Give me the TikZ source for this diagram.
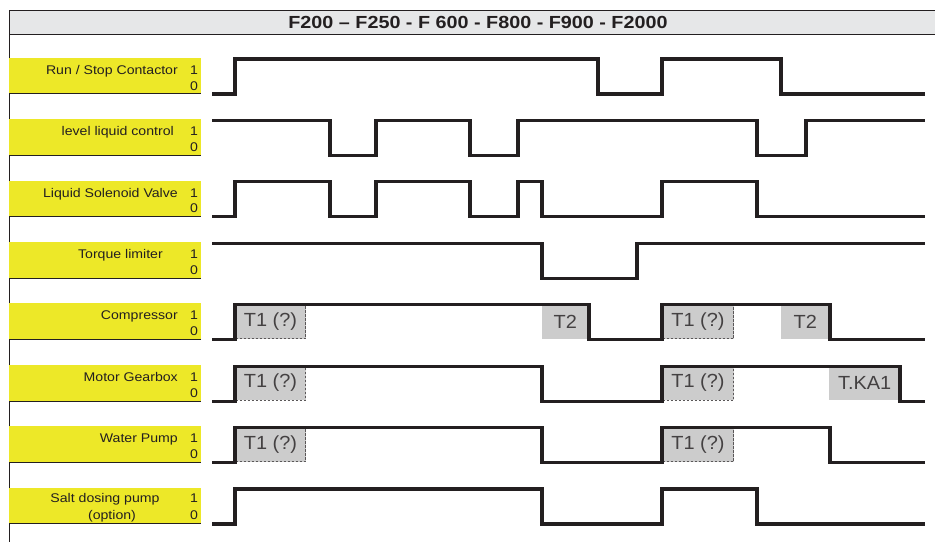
\documentclass[tikz,border=0pt]{standalone}
\usepackage{graphicx}
\usepackage{fontspec}
\setmainfont{Liberation Sans}
\definecolor{ylw}{RGB}{237,232,40}
\definecolor{ink}{RGB}{35,31,32}
\definecolor{tbar}{RGB}{230,231,232}
\definecolor{tboxc}{RGB}{204,204,204}
\newcommand\wtxt[2][1.12]{\scalebox{#1}[1]{#2}}
\begin{document}
\begin{tikzpicture}[x=1pt,y=-1pt,
  sig/.style={draw=ink,line width=3.1pt,line join=miter},
  rule/.style={draw=ink,line width=1pt},
  lbl/.style={fill=ylw,minimum width=192pt,minimum height=36pt,inner sep=0pt,anchor=north west},
  txt/.style={anchor=base east,inner sep=0pt,text=ink,font=\fontsize{12.6}{14}\selectfont},
  dig/.style={anchor=base,inner sep=0pt,text=ink,font=\fontsize{12.6}{14}\selectfont},
  tb/.style={fill=tboxc,inner sep=0pt,anchor=north west,minimum height=35pt,text=ink!85,font=\fontsize{19}{20}\selectfont},
  tbd/.style={tb,draw=ink!75,line width=1pt,dash pattern=on 2.5pt off 1.5pt},
]
\useasboundingbox (0,0) rectangle (935,542);
% title bar
\path[fill=tbar] (9,10.7) rectangle (935,34.3);
\node[inner sep=0pt,text=ink,font=\bfseries\fontsize{17.5}{19}\selectfont] (title) at (478,22.5) {\wtxt[1.13]{F200 -- F250 - F 600 - F800 - F900 - F2000}};
\draw[rule] (935,10.7) -- (9,10.7) -- (9,542);
\draw[rule] (9,34.3) -- (935,34.3);

% Row 1
\begin{scope}[yshift=-57.5pt]
\node[lbl] (rowA) at (9,0) {};
\draw[rule] (rowA.south west) -- (rowA.south east);
\node[txt] (labA) at (178,16.7) {\wtxt{Run / Stop Contactor}};
\node[dig] (oneA) at (194,16.7) {\wtxt{1}};
\node[dig] (zeroA) at (194,32.5) {\wtxt{0}};
\draw[sig] (212,36.5) -| (235,1.5) -| (598,36.5) -| (662,1.5) -| (781,36.5) -- (925,36.5);
\end{scope}

% Row 2
\begin{scope}[yshift=-118.9pt]
\node[lbl] (rowB) at (9,0) {};
\draw[rule] (rowB.south west) -- (rowB.south east);
\node[txt] (labB) at (174,16.7) {\wtxt{level liquid control}};
\node[dig] (oneB) at (194,16.7) {\wtxt{1}};
\node[dig] (zeroB) at (194,32.5) {\wtxt{0}};
\draw[sig] (212,1.5) -| (330,36.5) -| (376,1.5) -| (470,36.5) -| (518,1.5) -| (757,36.5) -| (806,1.5) -- (925,1.5);
\end{scope}

% Row 3
\begin{scope}[yshift=-180.4pt]
\node[lbl] (rowC) at (9,0) {};
\draw[rule] (rowC.south west) -- (rowC.south east);
\node[txt] (labC) at (178,16.7) {\wtxt{Liquid Solenoid Valve}};
\node[dig] (oneC) at (194,16.7) {\wtxt{1}};
\node[dig] (zeroC) at (194,32.5) {\wtxt{0}};
\draw[sig] (212,36.5) -| (235,1.5) -| (330,36.5) -| (376,1.5) -| (470,36.5) -| (518,1.5) -| (542,36.5) -| (662,1.5) -| (757,36.5) -- (925,36.5);
\end{scope}

% Row 4
\begin{scope}[yshift=-241.8pt]
\node[lbl] (rowD) at (9,0) {};
\draw[rule] (rowD.south west) -- (rowD.south east);
\node[txt] (labD) at (163,16.7) {\wtxt{Torque limiter}};
\node[dig] (oneD) at (194,16.7) {\wtxt{1}};
\node[dig] (zeroD) at (194,32.5) {\wtxt{0}};
\draw[sig] (212,1.5) -| (542,36.5) -| (637,1.5) -- (925,1.5);
\end{scope}

% Row 5
\begin{scope}[yshift=-303.2pt]
\node[lbl] (rowE) at (9,0) {};
\draw[rule] (rowE.south west) -- (rowE.south east);
\node[txt] (labE) at (178,16.7) {\wtxt{Compressor}};
\node[dig] (oneE) at (194,16.7) {\wtxt{1}};
\node[dig] (zeroE) at (194,32.5) {\wtxt{0}};
\node[tbd,minimum width=70pt] (boxE1) at (235,0) {\wtxt[1.05]{T1 (?)}};
\node[tb,minimum width=46pt] (boxE2) at (542,0.5) {\wtxt[1.05]{T2}};
\node[tbd,minimum width=71pt] (boxE3) at (662,0) {\wtxt[1.05]{T1 (?)}};
\node[tb,minimum width=48pt] (boxE4) at (781,0.5) {\wtxt[1.05]{T2}};
\draw[sig] (212,36.5) -| (235,1.5) -| (589,36.5) -| (662,1.5) -| (830,36.5) -- (925,36.5);
\end{scope}

% Row 6
\begin{scope}[yshift=-364.7pt]
\node[lbl] (rowF) at (9,0) {};
\draw[rule] (rowF.south west) -- (rowF.south east);
\node[txt] (labF) at (178,16.7) {\wtxt{Motor Gearbox}};
\node[dig] (oneF) at (194,16.7) {\wtxt{1}};
\node[dig] (zeroF) at (194,32.5) {\wtxt{0}};
\node[tbd,minimum width=70pt] (boxF1) at (235,0) {\wtxt[1.05]{T1 (?)}};
\node[tbd,minimum width=71pt] (boxF2) at (662,0) {\wtxt[1.05]{T1 (?)}};
\node[tb,minimum width=71pt] (boxF3) at (829,0.5) {\wtxt[1.05]{T.KA1}};
\draw[sig] (212,36.5) -| (235,1.5) -| (542,36.5) -| (662,1.5) -| (900,36.5) -- (925,36.5);
\end{scope}

% Row 7
\begin{scope}[yshift=-426.1pt]
\node[lbl] (rowG) at (9,0) {};
\draw[rule] (rowG.south west) -- (rowG.south east);
\node[txt] (labG) at (178,16.7) {\wtxt{Water Pump}};
\node[dig] (oneG) at (194,16.7) {\wtxt{1}};
\node[dig] (zeroG) at (194,32.5) {\wtxt{0}};
\node[tbd,minimum width=70pt] (boxG1) at (235,0) {\wtxt[1.05]{T1 (?)}};
\node[tbd,minimum width=71pt] (boxG2) at (662,0) {\wtxt[1.05]{T1 (?)}};
\draw[sig] (212,36.5) -| (235,1.5) -| (542,36.5) -| (662,1.5) -| (830,36.5) -- (925,36.5);
\end{scope}

% Row 8
\begin{scope}[yshift=-487.5pt]
\node[lbl] (rowH) at (9,0) {};
\draw[rule] (rowH.south west) -- (rowH.south east);
\node[anchor=base,inner sep=0pt,text=ink,font=\fontsize{12.6}{14}\selectfont] (labH1) at (105,15) {\wtxt{Salt dosing pump}};
\node[anchor=base,inner sep=0pt,text=ink,font=\fontsize{12.6}{14}\selectfont] (labH2) at (112,31.5) {\wtxt{(option)}};
\node[dig] (oneH) at (194,15) {\wtxt{1}};
\node[dig] (zeroH) at (194,31.5) {\wtxt{0}};
\draw[sig] (212,36.5) -| (235,1.5) -| (542,36.5) -| (662,1.5) -| (757,36.5) -- (925,36.5);
\end{scope}
\end{tikzpicture}
\end{document}
